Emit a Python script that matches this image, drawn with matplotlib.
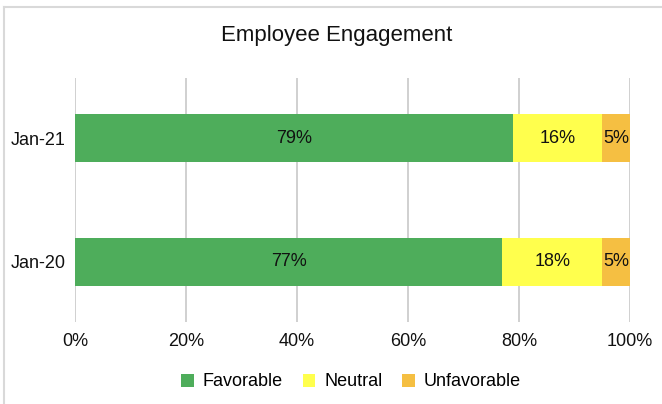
import matplotlib.pyplot as plt
from matplotlib.ticker import PercentFormatter

plt.rcParams['font.family'] = ['Liberation Sans', 'DejaVu Sans']

# datos
periods = ["Jan-20", "Jan-21"]
favorable = [77, 79]
neutral = [18, 16]
unfavorable = [5, 5]

series = ["Favorable", "Neutral", "Unfavorable"]
colors = ["#4EAD5B", "#FFFF4D", "#F5BF42"]

fig = plt.figure(figsize=(6.62, 4.04), dpi=100)
ax = fig.add_axes([75/662, 1 - 322/404, 555/662, 244/404])

# marco gris del panel
fig.add_artist(plt.Line2D([4/662, 1], [1 - 7/404, 1 - 7/404], color="#D9D9D9", lw=1.5,
                          transform=fig.transFigure))
fig.add_artist(plt.Line2D([4/662, 4/662], [0, 1 - 7/404], color="#D9D9D9", lw=1.5,
                          transform=fig.transFigure))

left = [0, 0]
for name, vals, c in zip(series, [favorable, neutral, unfavorable], colors):
    bars = ax.barh(periods, vals, left=left, height=0.39, color=c, label=name, zorder=2)
    for b, v in zip(bars, vals):
        ax.text(b.get_x() + b.get_width() / 2, b.get_y() + b.get_height() / 2, f"{v}%",
                ha="center", va="center", fontsize=13, color="#111111", zorder=3)
    left = [l + v for l, v in zip(left, vals)]

ax.set_xlim(0, 100)
ax.set_ylim(-0.49, 1.49)
ax.set_xticks(range(0, 101, 20))
ax.xaxis.set_major_formatter(PercentFormatter(decimals=0))
ax.grid(axis="x", color="#C8C8C8", lw=1.2, zorder=0)
for s in ax.spines.values():
    s.set_visible(False)
ax.tick_params(length=0, labelsize=13, colors="#111111")
ax.tick_params(axis="x", pad=8)
ax.tick_params(axis="y", pad=7)

fig.text(337/662, 1 - 35/404, "Employee Engagement", ha="center", va="center", fontsize=16,
         color="#111111")

fig.legend(loc="center", bbox_to_anchor=(351/662, 1 - 382/404), ncol=3, frameon=False,
           fontsize=13, handlelength=0.7, handleheight=0.7, handletextpad=0.5,
           columnspacing=1.1)

fig.savefig("out.png", dpi=100, facecolor="white")
